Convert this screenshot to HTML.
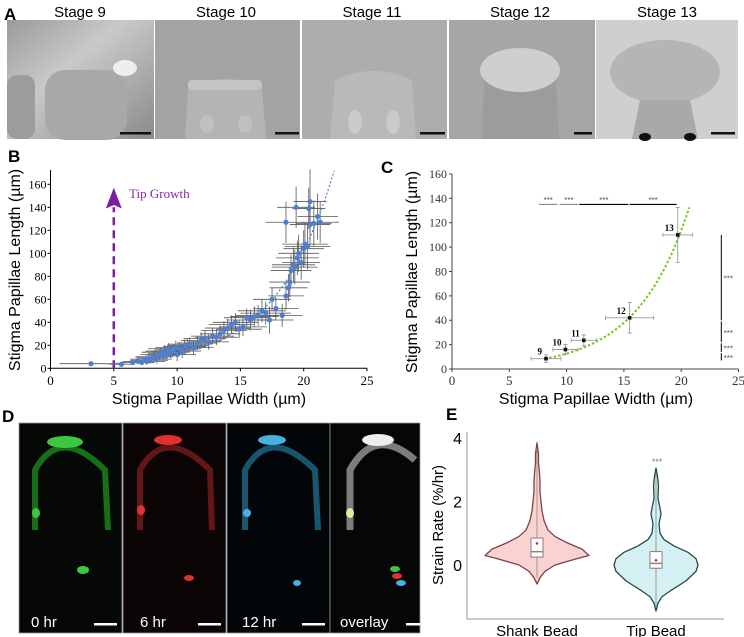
<!DOCTYPE html>
<html><head><meta charset="utf-8"><style>
body{margin:0;background:#fff}
svg{display:block;font-family:"Liberation Sans",sans-serif}
.ser{font-family:"Liberation Serif",serif}
</style></head><body>
<svg id="fig" width="744" height="637" viewBox="0 0 744 637" xmlns="http://www.w3.org/2000/svg">
<defs>
<linearGradient id="bg9" x1="0" y1="0" x2="1" y2="1"><stop offset="0" stop-color="#9a9a9a"/><stop offset="0.4" stop-color="#c9c9c9"/><stop offset="1" stop-color="#8a8a8a"/></linearGradient>
</defs>
<!-- Panel A -->
<g>
<text x="4" y="20" font-size="17" font-weight="bold">A</text>
<text x="80" y="17" font-size="15" text-anchor="middle">Stage 9</text>
<text x="226" y="17" font-size="15" text-anchor="middle">Stage 10</text>
<text x="372" y="17" font-size="15" text-anchor="middle">Stage 11</text>
<text x="520" y="17" font-size="15" text-anchor="middle">Stage 12</text>
<text x="667" y="17" font-size="15" text-anchor="middle">Stage 13</text>
<g>
<rect x="7" y="20" width="147" height="119" fill="url(#bg9)"/>
<rect x="45" y="70" width="82" height="70" rx="20" fill="#a8a8a8"/>
<rect x="7" y="75" width="28" height="64" rx="10" fill="#9c9c9c"/>
<ellipse cx="125" cy="68" rx="12" ry="8" fill="#eeeeee"/>
<rect x="120" y="132" width="31" height="2.5" fill="#111"/></g>
<g>
<rect x="155" y="20" width="145" height="119" fill="#a3a3a3"/>
<path d="M185 139 L188 86 Q226 72 262 86 L266 139Z" fill="#b4b4b4"/>
<rect x="188" y="80" width="74" height="10" rx="4" fill="#c4c4c4"/>
<ellipse cx="207" cy="124" rx="7" ry="9" fill="#c0c0c0"/><ellipse cx="245" cy="124" rx="7" ry="9" fill="#c0c0c0"/>
<rect x="275" y="132" width="24" height="2.5" fill="#111"/></g>
<g>
<rect x="302" y="20" width="145" height="119" fill="#adadad"/>
<path d="M330 139 L335 80 Q372 62 412 80 L416 139Z" fill="#b9b9b9"/>
<ellipse cx="355" cy="122" rx="7" ry="12" fill="#cacaca"/><ellipse cx="393" cy="122" rx="7" ry="12" fill="#cacaca"/>
<rect x="420" y="132" width="25" height="2.5" fill="#111"/></g>
<g>
<rect x="449" y="20" width="146" height="119" fill="#a6a6a6"/>
<path d="M482 139 L484 80 L556 80 L559 139Z" fill="#9c9c9c"/>
<ellipse cx="520" cy="70" rx="40" ry="22" fill="#cfcfcf"/>
<rect x="574" y="132" width="18" height="2.5" fill="#111"/></g>
<g>
<rect x="596" y="20" width="142" height="119" fill="#cfcfcf"/>
<ellipse cx="665" cy="72" rx="55" ry="32" fill="#b5b5b5"/>
<path d="M632 139 L640 100 L690 100 L698 139Z" fill="#a9a9a9"/>
<ellipse cx="645" cy="137" rx="6" ry="4" fill="#111"/><ellipse cx="690" cy="137" rx="6" ry="4" fill="#111"/>
<rect x="711" y="132" width="24" height="2.5" fill="#111"/></g>
</g>
<g id="panelB"></g>
<g id="panelC"></g>
<!-- Panel D -->
<g>
<text x="2" y="422" font-size="17" font-weight="bold">D</text>
<g><rect x="19" y="423" width="103" height="210" fill="#050805" stroke="#999" stroke-width="0.8"/>
<path d="M35 530 L35 470 Q60 425 105 470 L108 530" fill="none" stroke="#1c8a1c" stroke-width="6" opacity="0.8"/><ellipse cx="65" cy="442" rx="18" ry="6" fill="#3ec63e"/><ellipse cx="36" cy="513" rx="4" ry="5" fill="#3ec63e"/><ellipse cx="83" cy="570" rx="6" ry="4" fill="#3ec63e"/></g>
<g><rect x="123" y="423" width="103" height="210" fill="#0a0404" stroke="#999" stroke-width="0.8"/>
<path d="M140 530 L140 470 Q165 425 210 470 L212 530" fill="none" stroke="#7a1a1a" stroke-width="6" opacity="0.8"/><ellipse cx="168" cy="440" rx="14" ry="5" fill="#e03030"/><ellipse cx="141" cy="510" rx="4" ry="5" fill="#e03030"/><ellipse cx="189" cy="578" rx="5" ry="3" fill="#e03030"/></g>
<g><rect x="227" y="423" width="103" height="210" fill="#030608" stroke="#999" stroke-width="0.8"/>
<path d="M245 530 L245 470 Q270 425 315 470 L318 530" fill="none" stroke="#1e6a8a" stroke-width="6" opacity="0.8"/><ellipse cx="272" cy="440" rx="14" ry="5" fill="#4ab0e0"/><ellipse cx="247" cy="513" rx="4" ry="4" fill="#4ab0e0"/><ellipse cx="297" cy="583" rx="4" ry="3" fill="#4ab0e0"/></g>
<g><rect x="330" y="423" width="90" height="210" fill="#060606" stroke="#999" stroke-width="0.8"/>
<path d="M350 530 L350 470 Q375 425 415 460" fill="none" stroke="#9a9a9a" stroke-width="7" opacity="0.8"/><ellipse cx="378" cy="440" rx="16" ry="6" fill="#eeeeee"/><ellipse cx="350" cy="513" rx="4" ry="5" fill="#e8e8a0"/><ellipse cx="395" cy="569" rx="5" ry="3" fill="#3ec63e"/><ellipse cx="397" cy="576" rx="5" ry="3" fill="#e03030"/><ellipse cx="401" cy="583" rx="5" ry="3" fill="#4ab0e0"/></g>
<text x="31" y="627" font-size="15" fill="#fff">0 hr</text>
<text x="140" y="627" font-size="15" fill="#fff">6 hr</text>
<text x="242" y="627" font-size="15" fill="#fff">12 hr</text>
<text x="340" y="627" font-size="15" fill="#fff">overlay</text>
<rect x="94" y="623" width="23" height="2.5" fill="#fff"/><rect x="198" y="623" width="23" height="2.5" fill="#fff"/><rect x="302" y="623" width="23" height="2.5" fill="#fff"/><rect x="406" y="623" width="14" height="2.5" fill="#fff"/>
</g>
<g id="panelE"></g>
</svg>
<script>
// ---------- Panel B data ----------
const bWidth=[3.2,5.6,6.5,6.9,7.2,7.5,7.6,7.8,8.0,8.2,8.4,8.6,8.7,8.9,9.0,9.2,9.3,9.5,9.7,9.9,10.0,10.2,10.4,10.6,10.8,11.0,11.3,11.6,11.9,12.2,12.5,12.8,13.1,13.4,13.7,14.0,14.3,14.6,14.9,15.2,15.5,15.8,16.1,16.4,16.7,17.0,17.3,17.5,17.8,18.3,18.6,18.8,18.9,19.0,19.2,19.3,19.5,19.6,19.8,20.0,20.1,20.3,20.5,20.5,20.8,21.1,21.3,18.6,19.4,20.4];
const bLength=[4,3.5,5,6,5,8,6,7,9,10,8,12,14,11,15,13,17,14,16,18,12,17,15,19,20,21,18,22,24,26,23,28,27,30,33,35,38,40,34,36,44,42,45,46,50,48,42,60,52,46,63,70,75,85,90,88,96,100,92,104,108,106,125,145,126,132,127,127,140,139];
const bErrW=[2.5,1,1,1.2,1,1.2,1.5,1.5,1.2,1.5,1.2,1.5,1.5,1.3,1.5,1.5,1.6,1.5,1.5,1.6,1.5,1.6,1.5,1.7,1.6,1.7,1.6,1.6,1.6,1.7,1.6,1.7,1.7,1.6,1.8,1.8,1.8,1.8,1.8,1.9,1.8,1.9,1.9,1.8,1.9,2.0,1.9,1.5,1.8,1.6,1.4,1.5,1.6,1.6,1.7,1.8,1.7,1.6,1.5,1.6,1.8,1.8,1.6,1.3,1.4,1.6,1.5,1.6,1.5,1.3];
const bErrL=[1,1,2,2,2,3,3,3,3,4,4,4,4,4,5,5,5,5,5,6,6,6,6,6,6,6,6,6,7,7,7,7,7,7,8,8,8,8,8,8,8,9,9,9,10,10,12,10,10,10,12,12,13,14,15,15,15,16,15,16,18,20,18,28,20,20,18,18,18,18];
const bXTicks=[0,5,10,15,20,25];
const bYTicks=[0,20,40,60,80,100,120,140,160];
const bFit=[1.36,0.216];
// ---------- Panel C data ----------
const cStages=['9','10','11','12','13'];
const cWidth=[8.2,9.9,11.5,15.5,19.7];
const cLength=[8.5,16,23.5,42,110];
const cErrW=[1.3,1.1,1.1,2.1,1.3];
const cErrL=[3,4,4.5,12.5,22.5];
const cFit=[1.41,0.2195];
const cSigTop=[[7.6,9.2],[9.4,11],[11.1,15.4],[15.5,19.6]];
const cSigSide=[[110,40],[39,22],[21,14],[13,7]];
const cXTicks=[0,5,10,15,20,25];
const cYTicks=[0,20,40,60,80,100,120,140,160];
// ---------- Panel E data ----------
const eGroups=['Shank Bead','Tip Bead'];
const eShankVals=[-0.6,-0.4,-0.2,0,0.2,0.3,0.5,0.7,0.9,1.1,1.4,1.7,2.0,2.3,2.6,2.9,3.2,3.5,3.85];
const eShankDens=[0,3,8,18,40,52,45,30,18,11,7,5,4,3,3,2.5,1.5,1.5,0];
const eTipVals=[-1.45,-1.2,-1.0,-0.8,-0.5,-0.2,0,0.2,0.4,0.6,0.8,1.0,1.3,1.6,1.8,2.1,2.5,2.8,3.05];
const eTipDens=[0,2,6,15,30,40,42,40,32,18,8,4,3,5,4,2,2.5,1.5,0];
const eBoxQ1=[0.25,-0.1];
const eBoxMed=[0.42,0.05];
const eBoxQ3=[0.85,0.42];
const eMean=[0.68,0.15];
const eWhisk=[[-0.4,3.6],[-1.3,2.9]];
const eYTicks=[0,2,4];

const NS='http://www.w3.org/2000/svg';
function mk(parent,tag,attrs,text){const e=document.createElementNS(NS,tag);for(const k in attrs)e.setAttribute(k,attrs[k]);if(text!==undefined)e.textContent=text;parent.appendChild(e);return e;}

// ---------- Panel B ----------
(function(){
const g=document.getElementById('panelB');
const bx=v=>50.5+v*12.66, by=v=>368.3-v*1.15;
let t=mk(g,'text',{x:8,y:162,'font-size':17,'font-weight':'bold'},'B');


let ax=mk(g,'path',{d:`M${bx(0)} 170 V${by(0)} H${bx(25)}`,fill:'none',stroke:'#000','stroke-width':1});


bXTicks.forEach(v=>{mk(g,'line',{x1:bx(v),x2:bx(v),y1:by(0),y2:by(0)+3,stroke:'#000'});
 const l=mk(g,'text',{x:bx(v),y:385,'font-size':13,'text-anchor':'middle',class:'ser'},v);
 
 });
bYTicks.forEach(v=>{mk(g,'line',{x1:bx(0)-3,x2:bx(0),y1:by(v),y2:by(v),stroke:'#000'});
 const l=mk(g,'text',{x:bx(0)-4,y:by(v)+4,'font-size':12,'text-anchor':'end',class:'ser'},v);
 
 });
t=mk(g,'text',{x:209,y:404,'font-size':16,'text-anchor':'middle'},'Stigma Papillae Width (µm)');


t=mk(g,'text',{x:0,y:0,'font-size':16,'text-anchor':'middle',transform:'translate(20,270) rotate(-90)'},'Stigma Papillae Length (µm)');


let ar=mk(g,'line',{x1:bx(5),x2:bx(5),y1:by(0),y2:by(140),stroke:'#7b1fa2','stroke-width':2.5,'stroke-dasharray':'8,5'});


mk(g,'path',{d:`M${bx(5)-8} ${by(139)} L${bx(5)} ${by(157)} L${bx(5)+8} ${by(139)} L${bx(5)} ${by(142)}Z`,fill:'#7b1fa2'});
t=mk(g,'text',{x:129,y:198,'font-size':13,fill:'#8e24aa',class:'ser'},'Tip Growth');


for(let i=0;i<bWidth.length;i++){
 const x=bx(bWidth[i]),y=by(bLength[i]);
 const eb=mk(g,'path',{d:`M${bx(bWidth[i]-bErrW[i])} ${y}H${bx(bWidth[i]+bErrW[i])}M${x} ${by(bLength[i]-bErrL[i])}V${by(bLength[i]+bErrL[i])}`,stroke:'#555','stroke-width':0.8,fill:'none'});
 
 
}
for(let i=0;i<bWidth.length;i++){
 const c=mk(g,'circle',{cx:bx(bWidth[i]),cy:by(bLength[i]),r:2.6,fill:'#4f7fd0'});
 
 
}
let d='';for(let w=4.6;w<=22.4;w+=0.2){const L=bFit[0]*Math.exp(bFit[1]*w);d+=(d?'L':'M')+bx(w)+' '+by(L);}
const tr=mk(g,'path',{d:d,fill:'none',stroke:'#4f7fd0','stroke-width':1.2,'stroke-dasharray':'2,2'});


})();

// ---------- Panel C ----------
(function(){
const g=document.getElementById('panelC');
const cx=v=>452+v*11.46, cy=v=>369-v*1.219;
let t=mk(g,'text',{x:381,y:173,'font-size':17,'font-weight':'bold'},'C');


let ax=mk(g,'path',{d:`M${cx(0)} ${cy(160)} V${cy(0)} H${cx(25)}`,fill:'none',stroke:'#444','stroke-width':1});


cXTicks.forEach(v=>{mk(g,'line',{x1:cx(v),x2:cx(v),y1:cy(0),y2:cy(0)+3,stroke:'#444'});
 const l=mk(g,'text',{x:cx(v),y:385,'font-size':13,'text-anchor':'middle',class:'ser',fill:'#333'},v);
 
 });
cYTicks.forEach(v=>{mk(g,'line',{x1:cx(0)-3,x2:cx(0),y1:cy(v),y2:cy(v),stroke:'#444'});
 const l=mk(g,'text',{x:cx(0)-5,y:cy(v)+4,'font-size':12,'text-anchor':'end',class:'ser',fill:'#333'},v);
 
 });
t=mk(g,'text',{x:596,y:404,'font-size':16,'text-anchor':'middle'},'Stigma Papillae Width (µm)');


t=mk(g,'text',{x:0,y:0,'font-size':16,'text-anchor':'middle',transform:'translate(417,272) rotate(-90)'},'Stigma Papillae Length (µm)');


let d='';for(let w=8.1;w<=20.8;w+=0.1){const L=cFit[0]*Math.exp(cFit[1]*w);d+=(d?'L':'M')+cx(w)+' '+cy(L);}
const tr=mk(g,'path',{d:d,fill:'none',stroke:'#7cc520','stroke-width':2,'stroke-dasharray':'2.5,2'});


for(let i=0;i<cWidth.length;i++){
 const x=cx(cWidth[i]),y=cy(cLength[i]);
 const eb=mk(g,'path',{d:`M${cx(cWidth[i]-cErrW[i])} ${y}H${cx(cWidth[i]+cErrW[i])}M${cx(cWidth[i]-cErrW[i])} ${y-2}v4M${cx(cWidth[i]+cErrW[i])} ${y-2}v4M${x} ${cy(cLength[i]-cErrL[i])}V${cy(cLength[i]+cErrL[i])}M${x-2} ${cy(cLength[i]-cErrL[i])}h4M${x-2} ${cy(cLength[i]+cErrL[i])}h4`,stroke:'#999','stroke-width':0.9,fill:'none'});
 
 
 const p=mk(g,'rect',{x:x-1.8,y:y-1.8,width:3.6,height:3.6,fill:'#111'});
 
 
 const l=mk(g,'text',{x:x-4,y:y-4,'font-size':9,'font-weight':'bold','text-anchor':'end',class:'ser'},cStages[i]);
 
 
}
cSigTop.forEach((s,i)=>{
 const ln=mk(g,'line',{x1:cx(s[0]),x2:cx(s[1]),y1:cy(135),y2:cy(135),stroke:i<2?'#888':'#000','stroke-width':1.2});
 
 
 const st=mk(g,'text',{x:(cx(s[0])+cx(s[1]))/2,y:cy(136),'font-size':8,'text-anchor':'middle',fill:'#555'},'***');
 
 
});
cSigSide.forEach(s=>{
 const ln=mk(g,'line',{x1:cx(23.5),x2:cx(23.5),y1:cy(s[0]),y2:cy(s[1]),stroke:'#000','stroke-width':1});
 
 
 const st=mk(g,'text',{x:cx(23.7),y:(cy(s[0])+cy(s[1]))/2+4,'font-size':8,fill:'#555'},'***');
 
 
});
})();

// ---------- Panel E ----------
(function(){
const g=document.getElementById('panelE');
const ey=v=>565-v*31.75;
const centers=[537,656];
let t=mk(g,'text',{x:446,y:420,'font-size':17,'font-weight':'bold'},'E');


let ax=mk(g,'path',{d:`M467 432 V619 H724`,fill:'none',stroke:'#999','stroke-width':1});


eYTicks.forEach(v=>{const l=mk(g,'text',{x:462,y:ey(v)+6,'font-size':16,'text-anchor':'end'},v);
 
 });
t=mk(g,'text',{x:0,y:0,'font-size':15,'text-anchor':'middle',transform:'translate(443,525) rotate(-90)'},'Strain Rate (%/hr)');


const vals=[eShankVals,eTipVals],dens=[eShankDens,eTipDens],fills=['#f9d3d1','#d4f0f2'],strokes=['#7a4444','#244c4a'];
for(let k=0;k<2;k++){
 const c=centers[k];let d='';
 vals[k].forEach((v,i)=>{d+=(i?'L':'M')+(c+dens[k][i])+' '+ey(v);});
 for(let i=vals[k].length-1;i>=0;i--)d+='L'+(c-dens[k][i])+' '+ey(vals[k][i]);
 const vp=mk(g,'path',{d:d+'Z',fill:fills[k],stroke:strokes[k],'stroke-width':1.3,'stroke-linejoin':'round'});
 
 
 mk(g,'line',{x1:c,x2:c,y1:ey(eWhisk[k][0]),y2:ey(eWhisk[k][1]),stroke:'#888','stroke-width':0.8});
 const bx=mk(g,'rect',{x:c-6,y:ey(eBoxQ3[k]),width:12,height:ey(eBoxQ1[k])-ey(eBoxQ3[k]),fill:'#fff',stroke:'#666','stroke-width':0.8});
 
 
 mk(g,'line',{x1:c-6,x2:c+6,y1:ey(eBoxMed[k]),y2:ey(eBoxMed[k]),stroke:'#888','stroke-width':1.5});
 const m=mk(g,'circle',{cx:c,cy:ey(eMean[k]),r:1.3,fill:'#e02020'});
 
 
 const l=mk(g,'text',{x:c,y:636,'font-size':15,'text-anchor':'middle'},eGroups[k]);
 
 
}
t=mk(g,'text',{x:657,y:465,'font-size':9,'text-anchor':'middle',fill:'#777'},'***');


})();
</script>
</body></html>
